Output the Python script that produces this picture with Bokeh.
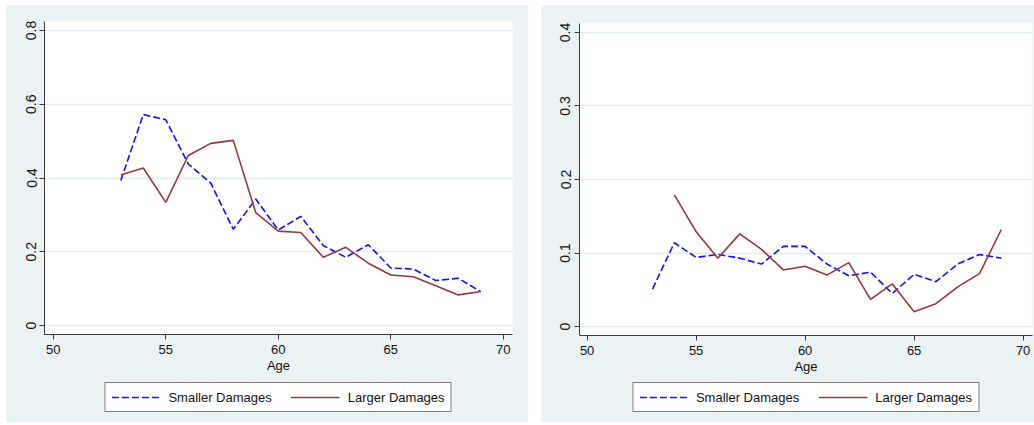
from bokeh.plotting import figure
from bokeh.models import (Range1d, FixedTicker, CustomJSTickFormatter, Legend,
                          LegendItem, Spacer)
from bokeh.layouts import row, column
from bokeh.embed import file_html
from bokeh.resources import INLINE

# ---------------- data ----------------
ages = list(range(53, 70))
ages_r_large = list(range(54, 70))

left_smaller = [0.393, 0.572, 0.558, 0.438, 0.386, 0.261, 0.343, 0.259, 0.296,
                0.217, 0.185, 0.219, 0.156, 0.153, 0.122, 0.128, 0.092]
left_larger = [0.408, 0.427, 0.334, 0.461, 0.494, 0.502, 0.306, 0.256, 0.252,
               0.185, 0.212, 0.169, 0.137, 0.132, 0.108, 0.083, 0.092]

right_smaller = [0.051, 0.114, 0.094, 0.098, 0.093, 0.085, 0.109, 0.109, 0.085,
                 0.069, 0.074, 0.045, 0.071, 0.061, 0.085, 0.098, 0.093]
right_larger = [0.179, 0.129, 0.093, 0.126, 0.105, 0.077, 0.082, 0.070,
                0.087, 0.037, 0.058, 0.020, 0.031, 0.054, 0.072, 0.132]

x_ticks = [50, 55, 60, 65, 70]
left_y_ticks = [0, 0.2, 0.4, 0.6, 0.8]
right_y_ticks = [0, 0.1, 0.2, 0.3, 0.4]
series_labels = ["Smaller Damages", "Larger Damages"]
x_label = "Age"

# ---------------- style ----------------
BG = "#EAF2F3"
GRID = "#E3ECEE"
AXIS = "#3A3A3A"
BLUE = "#1010FF"
RED = "#903A3E"
FONT = "Liberation Sans"
FS = "13px"
BLUE_STYLE = dict(line_color=BLUE, line_width=1.6, line_dash="7 3")
RED_STYLE = dict(line_color=RED, line_width=1.6)
NAN = float("nan")


def make_panel(xs_s, ys_s, xs_l, ys_l, xr, yr, yticks, width, mbl, mbr,
               mbt, frame_h, ylab_standoff):
    p = figure(width=width, height=372, output_backend="svg",
               toolbar_location=None, x_range=Range1d(*xr),
               y_range=Range1d(*yr), min_border_left=mbl,
               min_border_right=mbr, min_border_top=mbt,
               min_border_bottom=372 - mbt - frame_h)
    p.background_fill_color = "white"
    p.border_fill_color = BG
    p.outline_line_color = None

    p.line(xs_s, ys_s, **BLUE_STYLE)
    p.line(xs_l, ys_l, **RED_STYLE)

    p.xaxis.ticker = FixedTicker(ticks=x_ticks)
    p.yaxis.ticker = FixedTicker(ticks=yticks)
    p.yaxis.formatter = CustomJSTickFormatter(
        code="return tick == 0 ? '0' : tick.toFixed(1);")
    p.yaxis.major_label_orientation = "vertical"

    for ax in (p.xaxis, p.yaxis):
        ax.axis_line_color = AXIS
        ax.axis_line_width = 1
        ax.major_tick_line_color = AXIS
        ax.major_tick_out = 5
        ax.major_tick_in = 0
        ax.minor_tick_line_color = None
        ax.major_label_text_font = FONT
        ax.major_label_text_font_size = FS
        ax.major_label_text_color = "#111111"
    p.yaxis.major_label_text_font_size = "14px"
    p.yaxis.major_label_standoff = ylab_standoff
    p.xaxis.major_label_standoff = 5
    p.xaxis.axis_label = x_label
    p.xaxis.axis_label_text_font = FONT
    p.xaxis.axis_label_text_font_size = FS
    p.xaxis.axis_label_text_font_style = "normal"
    p.xaxis.axis_label_text_color = "#111111"
    p.xaxis.axis_label_standoff = 1

    p.xgrid.grid_line_color = None
    p.ygrid.ticker = FixedTicker(ticks=yticks)
    p.ygrid.grid_line_color = GRID
    p.ygrid.grid_line_width = 1.5

    # legend strip below the panel, aligned with the plot area
    lg = figure(width=width, height=45, output_backend="svg",
                toolbar_location=None, x_axis_type=None, y_axis_type=None,
                min_border_left=mbl, min_border_right=mbr, min_border_top=0,
                min_border_bottom=0, x_range=Range1d(0, 1),
                y_range=Range1d(0, 1))
    lg.background_fill_color = BG
    lg.border_fill_color = BG
    lg.outline_line_color = None
    lg.xgrid.visible = False
    lg.ygrid.visible = False
    d1 = lg.line([NAN], [NAN], **BLUE_STYLE)
    d2 = lg.line([NAN], [NAN], **RED_STYLE)
    legend = Legend(items=[LegendItem(label=series_labels[0], renderers=[d1]),
                           LegendItem(label=series_labels[1], renderers=[d2])],
                    orientation="horizontal", location="top_center")
    legend.label_text_font = FONT
    legend.label_text_font_size = FS
    legend.label_text_color = "#111111"
    legend.glyph_width = 49
    legend.glyph_height = 16
    legend.label_height = 16
    legend.label_standoff = 8
    legend.spacing = 19
    legend.padding = 6
    legend.margin = 5
    legend.border_line_color = "black"
    legend.border_line_width = 1
    legend.background_fill_color = "white"
    legend.background_fill_alpha = 1
    lg.add_layout(legend)
    return column(p, lg, spacing=0, styles={"background-color": BG})


panel1 = make_panel(ages, left_smaller, ages, left_larger,
                    (49.61, 70.41), (-0.0244, 0.8244), left_y_ticks,
                    522, 38, 16, 16, 313, 3)
panel2 = make_panel(ages, right_smaller, ages_r_large, right_larger,
                    (49.65, 70.43), (-0.0122, 0.4122), right_y_ticks,
                    493, 38, 2, 18, 312, 4)

layout = column(Spacer(width=1034, height=5),
                row(Spacer(width=6, height=417), panel1,
                    Spacer(width=13, height=417), panel2, spacing=0),
                spacing=0)
open("out.html", "w").write(file_html(layout, INLINE))
